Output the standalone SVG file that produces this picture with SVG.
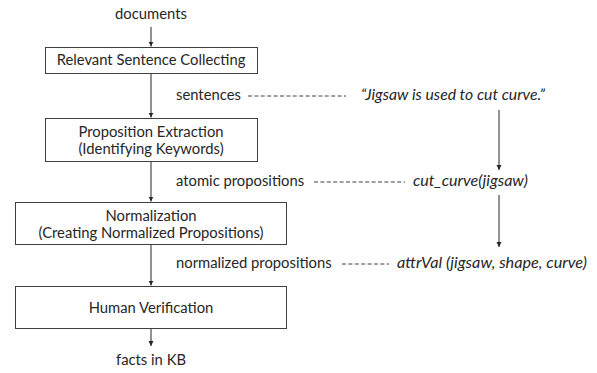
<svg xmlns="http://www.w3.org/2000/svg" width="597" height="373" viewBox="0 0 597 373">
<style>
.box{fill:#fff;stroke:#404040;stroke-width:1}
.t{font-family:Lato,"Open Sans","Liberation Sans",sans-serif;font-size:14.8px;fill:#262626}
.c{text-anchor:middle}
.i{font-style:italic;font-size:15.4px}
.ln{stroke:#262626;stroke-width:1;fill:none}
.d{stroke:#404040;stroke-width:1;stroke-dasharray:4 2.4}
</style>
<defs>
<marker id="ah" markerWidth="6" markerHeight="6" refX="5" refY="3" orient="auto" markerUnits="userSpaceOnUse">
<path d="M0,0.5 L5,3 L0,5.5 Z" fill="#262626"/>
</marker>
</defs>
<rect width="597" height="373" fill="#fff"/>
<g id="connectors">
<line class="ln" x1="151" y1="27" x2="151" y2="46.5" marker-end="url(#ah)"/>
<line class="ln" x1="151" y1="73" x2="151" y2="117.5" marker-end="url(#ah)"/>
<line class="ln" x1="151" y1="162" x2="151" y2="201.5" marker-end="url(#ah)"/>
<line class="ln" x1="151" y1="245" x2="151" y2="285.5" marker-end="url(#ah)"/>
<line class="ln" x1="151" y1="329" x2="151" y2="346" marker-end="url(#ah)"/>
<line class="ln" x1="499" y1="110" x2="499" y2="170" marker-end="url(#ah)"/>
<line class="ln" x1="499" y1="195" x2="499" y2="247" marker-end="url(#ah)"/>
<line class="d" x1="248" y1="96" x2="346" y2="96"/>
<line class="d" x1="314" y1="182" x2="405" y2="182"/>
<line class="d" x1="342" y1="264" x2="389" y2="264"/>
</g>
<text class="t c" x="151" y="19">documents</text>
<g id="n1">
<rect class="box" x="45.5" y="47.5" width="212" height="26"/>
<text class="t c" x="151" y="65">Relevant Sentence Collecting</text>
</g>
<g id="n2">
<rect class="box" x="45.5" y="118.5" width="212" height="43"/>
<text class="t c" x="151" y="137">Proposition Extraction</text>
<text class="t c" x="151" y="154">(Identifying Keywords)</text>
</g>
<g id="n3">
<rect class="box" x="15.5" y="202.5" width="271" height="42"/>
<text class="t c" x="151" y="221">Normalization</text>
<text class="t c" x="151" y="238">(Creating Normalized Propositions)</text>
</g>
<g id="n4">
<rect class="box" x="15.5" y="286.5" width="271" height="42"/>
<text class="t c" x="151" y="313">Human Verification</text>
</g>
<text class="t c" x="151" y="365">facts in KB</text>
<text class="t" x="176" y="100">sentences</text>
<text class="t" x="176" y="186">atomic propositions</text>
<text class="t" x="176" y="268">normalized propositions</text>
<text class="t i" x="361" y="100" textLength="184" lengthAdjust="spacingAndGlyphs">“Jigsaw is used to cut curve.”</text>
<text class="t i" x="413" y="186" textLength="115" lengthAdjust="spacingAndGlyphs">cut_curve(jigsaw)</text>
<text class="t i" x="397" y="268" textLength="190" lengthAdjust="spacingAndGlyphs">attrVal (jigsaw, shape, curve)</text>
</svg>
